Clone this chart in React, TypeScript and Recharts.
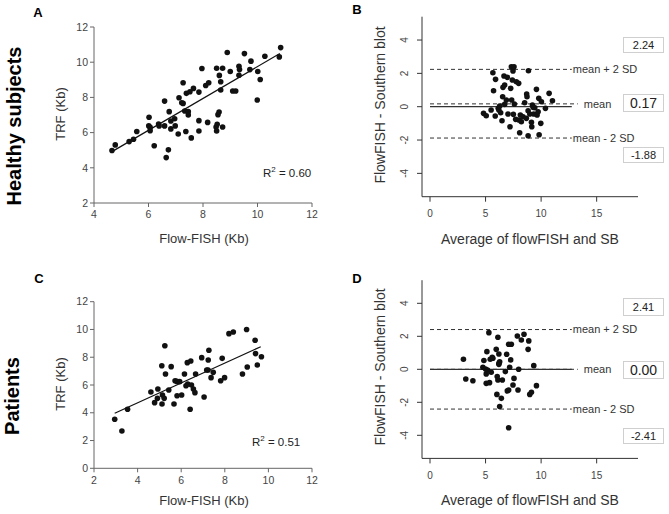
import { ReferenceLine, Scatter, ScatterChart, XAxis, YAxis } from "recharts";

// Panel A: healthy subjects, Flow-FISH vs TRF (Kb)
const healthyPairs: [number, number][] = [
  [4.66, 4.98], [4.78, 5.3], [5.29, 5.49], [5.45, 5.62], [5.57, 6.06], [6.02, 6.87],
  [6.01, 6.38], [6.06, 6.3], [6.06, 6.11], [6.21, 5.25], [6.37, 6.49], [6.39, 6.38],
  [6.59, 6.38], [6.59, 7.79], [6.65, 4.58], [6.73, 5.02], [6.76, 7.19], [6.82, 6.66],
  [6.82, 6.21], [6.96, 6.79], [6.98, 6.38], [7.09, 5.92], [7.12, 7.98], [7.22, 7.7],
  [7.27, 7.66], [7.27, 8.83], [7.33, 7.23], [7.37, 6.06], [7.39, 8.23], [7.46, 7.19],
  [7.46, 7.0], [7.52, 8.32], [7.57, 5.7], [7.65, 8.51], [7.85, 6.68], [7.85, 6.09],
  [7.85, 8.3], [7.96, 9.64], [8.1, 8.68], [8.21, 8.83], [8.17, 6.58], [8.48, 6.32],
  [8.5, 6.09], [8.52, 6.47], [8.5, 9.66], [8.55, 7.02], [8.59, 7.17], [8.6, 9.25],
  [8.65, 8.89], [8.65, 8.42], [8.72, 9.66], [8.72, 6.32], [8.89, 10.55], [9.0, 9.47],
  [9.09, 8.36], [9.2, 8.36], [9.32, 9.77], [9.34, 9.58], [9.32, 9.26], [9.52, 10.49],
  [9.72, 9.58], [9.76, 10.06], [9.99, 7.85], [10.01, 9.47], [10.1, 9.02], [10.27, 10.34],
  [10.8, 10.3], [10.85, 10.83],
];
const healthyFit: [number, number][] = [[4.66, 4.92], [10.82, 10.49]];

// Panel B: healthy subjects, Bland-Altman (mean of methods vs difference)
const healthyBland: [number, number][] = [
  [4.82, -0.4], [5.06, -0.54], [5.5, -0.2], [5.66, 2.04], [5.72, 0.96], [5.9, 1.64],
  [5.87, -0.56], [6.14, -0.1], [6.2, -0.2], [6.27, 0.04], [6.36, -0.36], [6.48, -0.84],
  [6.54, 0.6], [6.57, 1.16], [6.66, 1.84], [6.72, 1.3], [6.72, 0.14], [6.87, 0.4],
  [6.96, 1.76], [7.02, -0.44], [7.2, -1.2], [7.26, 1.1], [7.32, 2.4], [7.35, 0.4],
  [7.41, 1.6], [7.47, 2.14], [7.5, -0.46], [7.56, 2.4], [7.59, 0.16], [7.71, -0.76],
  [7.77, 1.5], [7.98, 1.4], [8.01, -0.8], [8.13, -0.5], [8.07, -1.56], [8.22, -0.9],
  [8.37, -0.6], [8.52, 0.24], [8.7, 0.76], [8.73, 0.6], [8.67, -0.7], [8.83, -1.74],
  [8.86, 2.16], [8.83, -0.24], [8.98, -0.44], [9.13, -0.94], [9.16, -1.2], [9.22, 0.1],
  [9.34, -0.44], [9.43, -0.06], [9.58, 1.04], [9.64, -0.5], [9.73, -0.3], [9.79, 0.5],
  [9.82, -1.68], [9.97, -1.0], [10.03, 0.3], [10.39, -0.1], [10.72, 0.8], [11.02, 0.36],
  [9.28, -0.04],
];
const healthyLimits = { upper: 2.24, mean: 0.17, lower: -1.88 };

// Panel C: patients, Flow-FISH vs TRF (Kb)
const patientPairs: [number, number][] = [
  [2.95, 3.53], [3.28, 2.69], [3.54, 4.25], [4.61, 5.5], [4.78, 4.73], [4.91, 5.04],
  [4.93, 5.71], [5.11, 7.39], [5.14, 5.28], [5.12, 4.63], [5.22, 5.04], [5.25, 8.83],
  [5.28, 6.79], [5.43, 5.64], [5.54, 7.32], [5.67, 4.63], [5.72, 6.31], [5.8, 6.26],
  [5.81, 5.23], [5.93, 6.24], [6.02, 5.28], [6.15, 6.79], [6.22, 5.95], [6.28, 7.61],
  [6.3, 6.07], [6.41, 4.25], [6.44, 7.73], [6.47, 6.0], [6.56, 5.71], [6.63, 5.45],
  [6.66, 6.79], [6.94, 7.97], [7.05, 5.14], [7.17, 7.08], [7.23, 7.08], [7.24, 7.8],
  [7.27, 8.5], [7.37, 6.53], [7.47, 6.91], [7.81, 6.31], [7.88, 7.92], [7.99, 6.53],
  [8.19, 9.7], [8.39, 9.82], [8.81, 6.79], [9.0, 10.0], [9.03, 7.3], [9.39, 9.22],
  [9.41, 8.26], [9.49, 7.44], [9.68, 8.04],
];
const patientFit: [number, number][] = [[2.95, 3.96], [9.65, 8.76]];

// Panel D: patients, Bland-Altman
const patientBland: [number, number][] = [
  [3.01, 0.61], [3.22, -0.59], [3.86, -0.69], [4.85, 0.53], [4.76, 0.12], [5.0, 0.02],
  [5.12, 1.07], [5.06, -0.28], [5.06, -0.85], [5.18, -0.04], [5.3, 2.22], [5.36, -0.81],
  [5.42, 0.61], [5.51, -0.18], [5.6, 0.73], [5.66, 0.67], [5.96, 1.21], [6.02, -1.52],
  [6.05, -0.44], [6.11, -0.65], [6.11, 1.94], [6.2, 0.36], [6.2, 0.93], [6.2, 0.3],
  [6.27, 0.46], [6.27, -2.26], [6.42, -1.76], [6.51, -0.65], [6.78, -0.14], [6.9, 0.91],
  [6.96, -1.31], [7.08, 1.52], [7.08, -1.25], [7.08, -3.54], [7.17, 0.12], [7.32, 1.52],
  [7.26, 0.57], [7.47, -0.95], [7.56, -0.55], [7.86, 2.02], [7.92, -1.25], [7.98, 0.0],
  [8.22, 1.78], [8.46, 2.12], [8.83, 1.21], [8.89, 1.72], [8.98, -1.52], [9.13, -1.39],
  [9.34, 0.22], [9.58, -0.99],
];
const patientLimits = { upper: 2.41, mean: 0.0, lower: -2.41 };

const prismXTicksA = [4, 6, 8, 10, 12];
const prismYTicksA = [2, 4, 6, 8, 10, 12];
const prismXTicksC = [2, 4, 6, 8, 10, 12];
const prismYTicksC = [0, 2, 4, 6, 8, 10, 12];
const blandXTicks = [0, 5, 10, 15];
const blandYTicks = [-4, -2, 0, 2, 4];
const limitLineEnd = 12.76;
const meanLineEnd = 13.3;

const FONT = "'Liberation Sans', Arial, sans-serif";

const toPoints = (pairs: [number, number][]) => pairs.map(([x, y]) => ({ x, y }));

const Dot = (props: any) => <circle cx={props.cx} cy={props.cy} r={2.8} fill="#111" />;

const RotatedTick = (props: any) => (
  <text
    x={props.x}
    y={props.y}
    transform={`rotate(-90, ${props.x}, ${props.y})`}
    textAnchor="middle"
    fontSize={10}
    fill="#444"
  >
    {props.payload.value}
  </text>
);

function PrismPanel({ top, height, mTop, mBottom, pairs, fit, xDomain, xTicks, yDomain, yTicks }: any) {
  return (
    <div style={{ position: "absolute", left: 50, top }}>
      <ScatterChart width={290} height={height} margin={{ top: mTop, right: 28, bottom: mBottom, left: 14 }}>
        <XAxis
          type="number"
          dataKey="x"
          domain={xDomain}
          ticks={xTicks}
          stroke="#666"
          tickSize={4}
          tickMargin={4}
          tick={{ fill: "#444", fontSize: 10.5 }}
        />
        <YAxis
          type="number"
          dataKey="y"
          domain={yDomain}
          ticks={yTicks}
          width={30}
          stroke="#666"
          tickSize={4}
          tickMargin={2}
          tick={{ fill: "#444", fontSize: 10.5 }}
        />
        <ReferenceLine
          segment={[{ x: fit[0][0], y: fit[0][1] }, { x: fit[1][0], y: fit[1][1] }]}
          stroke="#111"
          strokeWidth={1.2}
        />
        <Scatter data={toPoints(pairs)} shape={Dot} isAnimationActive={false} />
      </ScatterChart>
    </div>
  );
}

function BlandPanel({ top, height, mTop, mBottom, pairs, limits }: any) {
  const lbl = (value: string, offset: number) => ({
    value,
    position: "right" as const,
    offset,
    fontSize: 11,
    fill: "#333",
  });
  return (
    <div style={{ position: "absolute", left: 340, top }}>
      <ScatterChart width={329} height={height} margin={{ top: mTop, right: 31, bottom: mBottom, left: 42 }}>
        <XAxis
          type="number"
          dataKey="x"
          domain={[-0.72, 18.72]}
          ticks={blandXTicks}
          stroke="#333"
          tickSize={5}
          tickMargin={8}
          tick={{ fill: "#444", fontSize: 10 }}
        />
        <YAxis
          type="number"
          dataKey="y"
          domain={[-5.4, 5.4]}
          ticks={blandYTicks}
          width={40}
          stroke="#333"
          tickSize={5}
          tickMargin={8.5}
          tick={<RotatedTick />}
        />
        <ReferenceLine
          segment={[{ x: 0, y: limits.upper }, { x: limitLineEnd, y: limits.upper }]}
          stroke="#333"
          strokeDasharray="4 3"
          label={lbl("mean + 2 SD", 1)}
        />
        <ReferenceLine
          segment={[{ x: 0, y: limits.mean }, { x: meanLineEnd, y: limits.mean }]}
          stroke="#333"
          strokeDasharray="4 3"
          label={lbl("mean", 6)}
        />
        <ReferenceLine
          segment={[{ x: 0, y: 0 }, { x: limitLineEnd, y: 0 }]}
          stroke="#333"
          strokeWidth={1.2}
        />
        <ReferenceLine
          segment={[{ x: 0, y: limits.lower }, { x: limitLineEnd, y: limits.lower }]}
          stroke="#333"
          strokeDasharray="4 3"
          label={lbl("mean - 2 SD", 1)}
        />
        <Scatter data={toPoints(pairs)} shape={Dot} isAnimationActive={false} />
      </ScatterChart>
    </div>
  );
}

function ValueBox({ top, height, text, size }: { top: number; height: number; text: string; size: number }) {
  return (
    <div
      style={{
        position: "absolute",
        left: 623,
        top,
        width: 41,
        height,
        boxSizing: "border-box",
        border: "1px solid #cfcfcf",
        background: "#fff",
        color: "#222",
        fontSize: size,
        lineHeight: `${height - 2}px`,
        textAlign: "center",
      }}
    >
      {text}
    </div>
  );
}

export default function App() {
  return (
    <div
      style={{
        position: "absolute",
        left: 0,
        top: 0,
        width: 669,
        height: 514,
        background: "#fff",
        overflow: "hidden",
        fontFamily: FONT,
      }}
    >
      <PrismPanel
        top={0}
        height={250}
        mTop={27}
        mBottom={17}
        pairs={healthyPairs}
        fit={healthyFit}
        xDomain={[4, 12]}
        xTicks={prismXTicksA}
        yDomain={[2, 12]}
        yTicks={prismYTicksA}
      />
      <PrismPanel
        top={255}
        height={259}
        mTop={46.7}
        mBottom={15.7}
        pairs={patientPairs}
        fit={patientFit}
        xDomain={[2, 12]}
        xTicks={prismXTicksC}
        yDomain={[0, 12]}
        yTicks={prismYTicksC}
      />
      <BlandPanel top={0} height={250} mTop={16.7} mBottom={23.3} pairs={healthyBland} limits={healthyLimits} />
      <BlandPanel top={255} height={259} mTop={25.2} mBottom={25.6} pairs={patientBland} limits={patientLimits} />

      <ValueBox top={37} height={16} text="2.24" size={11} />
      <ValueBox top={94} height={18} text="0.17" size={14} />
      <ValueBox top={147} height={16} text="-1.88" size={11} />
      <ValueBox top={298} height={18} text="2.41" size={11} />
      <ValueBox top={361} height={18} text="0.00" size={14} />
      <ValueBox top={428} height={16} text="-2.41" size={11} />

      <svg width={669} height={514} style={{ position: "absolute", left: 0, top: 0, pointerEvents: "none" }}>
        <g fontWeight="bold" fontSize={13} fill="#000" textAnchor="middle">
          <text x={38} y={17}>A</text>
          <text x={357} y={14}>B</text>
          <text x={39} y={283}>C</text>
          <text x={357} y={283}>D</text>
        </g>
        <g fontWeight="bold" fontSize={20} fill="#000" textAnchor="middle">
          <text x={21} y={126} transform="rotate(-90, 21, 126)">Healthy subjects</text>
          <text x={19} y={396} transform="rotate(-90, 19, 396)">Patients</text>
        </g>
        <g fontSize={13} fill="#333" textAnchor="middle" dominantBaseline="central">
          <text x={60} y={114} transform="rotate(-90, 60, 114)">TRF (Kb)</text>
          <text x={60} y={384} transform="rotate(-90, 60, 384)">TRF (Kb)</text>
          <text x={204} y={238}>Flow-FISH (Kb)</text>
          <text x={204} y={500}>Flow-FISH (Kb)</text>
        </g>
        <g fontSize={14} fill="#333" textAnchor="middle" dominantBaseline="central">
          <text x={380} y={105} transform="rotate(-90, 380, 105)">FlowFISH - Southern blot</text>
          <text x={380} y={367} transform="rotate(-90, 380, 367)">FlowFISH - Southern blot</text>
          <text x={530} y={239}>Average of flowFISH and SB</text>
          <text x={530} y={500}>Average of flowFISH and SB</text>
        </g>
        <g fontSize={11.5} fill="#222">
          <text x={263} y={177}>
            R<tspan dy={-5} fontSize={8}>2</tspan>
            <tspan dy={5}> = 0.60</tspan>
          </text>
          <text x={252} y={446}>
            R<tspan dy={-5} fontSize={8}>2</tspan>
            <tspan dy={5}> = 0.51</tspan>
          </text>
        </g>
      </svg>
    </div>
  );
}
